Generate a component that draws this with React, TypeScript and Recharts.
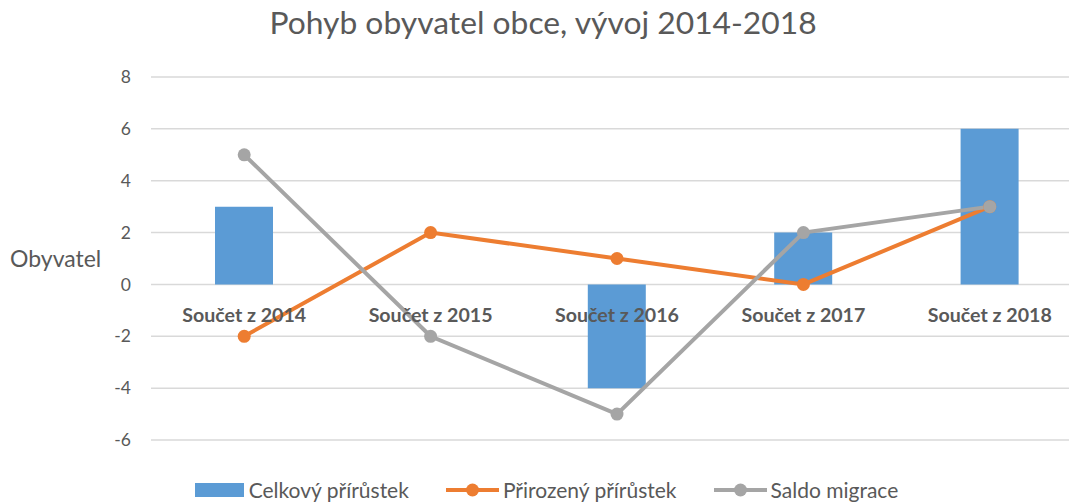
import React from 'react';
import { ComposedChart, Bar, Line, XAxis, YAxis, CartesianGrid, Legend } from 'recharts';

const categories = ['Součet z 2014', 'Součet z 2015', 'Součet z 2016', 'Součet z 2017', 'Součet z 2018'];
const celkovyPrirustek = [3, 0, -4, 2, 6];
const prirozenyPrirustek = [-2, 2, 1, 0, 3];
const saldoMigrace = [5, -2, -5, 2, 3];
const yTicks = [-6, -4, -2, 0, 2, 4, 6, 8];

const data = categories.map((name, i) => ({
  name,
  celkovy: celkovyPrirustek[i],
  prirozeny: prirozenyPrirustek[i],
  saldo: saldoMigrace[i],
}));

const FONT = 'Lato, "Open Sans", sans-serif';
const TEXT = '#595959';
const BLUE = '#5B9BD5';
const ORANGE = '#ED7D31';
const GRAY = '#A5A5A5';

const CategoryTick = (props: any) => {
  const { x, y, payload } = props;
  return (
    <text x={x} y={y - 134} textAnchor="middle" dominantBaseline="central" fill={TEXT}
      style={{ fontFamily: FONT, fontSize: 19.6, fontWeight: 700 }}>
      {payload.value}
    </text>
  );
};

const LegendContent = () => {
  const items = [
    { label: 'Celkový přírůstek', type: 'rect', color: BLUE },
    { label: 'Přirozený přírůstek', type: 'line', color: ORANGE },
    { label: 'Saldo migrace', type: 'line', color: GRAY },
  ];
  return (
    <div style={{ display: 'flex', justifyContent: 'center', alignItems: 'center', gap: 37, fontFamily: FONT, fontSize: 21, color: TEXT }}>
      {items.map((it) => (
        <div key={it.label} style={{ display: 'flex', alignItems: 'center' }}>
          <svg width={53} height={16} style={{ marginRight: 4 }}>
            {it.type === 'rect' ? (
              <rect x={3} y={1} width={49} height={14} fill={it.color} />
            ) : (
              <g>
                <line x1={0} y1={8} x2={53} y2={8} stroke={it.color} strokeWidth={4} />
                <circle cx={26.5} cy={8} r={6.5} fill={it.color} />
              </g>
            )}
          </svg>
          <span>{it.label}</span>
        </div>
      ))}
    </div>
  );
};

export default function App() {
  return (
    <div style={{ position: 'absolute', left: 0, top: 0, width: 1069, height: 502, overflow: 'hidden', background: '#fff' }}>
      <div style={{ position: 'absolute', left: 0, top: 3, width: 1086, textAlign: 'center', fontFamily: FONT, fontSize: 31.8, color: TEXT }}>
        Pohyb obyvatel obce, vývoj 2014-2018
      </div>
      <ComposedChart width={1090} height={502} data={data}
        margin={{ top: 77, right: 7, left: 0, bottom: 0 }}>
        <CartesianGrid vertical={false} stroke="#D9D9D9" strokeWidth={1.5} />
        <XAxis dataKey="name" axisLine={false} tickLine={false} height={37} tick={<CategoryTick />} interval={0} />
        <YAxis domain={[-6, 8]} ticks={yTicks} width={151} axisLine={false} tickLine={false} tickSize={0} tickMargin={20}
          tick={{ fill: TEXT, fontSize: 17.5, fontFamily: FONT }}
          label={{ value: 'Obyvatel', position: 'insideLeft', offset: 10, fill: TEXT, fontSize: 23, fontFamily: FONT }} />
        <Legend verticalAlign="bottom" content={<LegendContent />}
          wrapperStyle={{ position: 'absolute', top: 477, left: 0, width: 1090, bottom: 'auto' }} />
        <Bar dataKey="celkovy" fill={BLUE} barSize={58} isAnimationActive={false} />
        <Line dataKey="prirozeny" stroke={ORANGE} strokeWidth={4} dot={{ r: 6.5, fill: ORANGE, stroke: ORANGE, strokeWidth: 0 }} activeDot={false} isAnimationActive={false} />
        <Line dataKey="saldo" stroke={GRAY} strokeWidth={4} dot={{ r: 6.5, fill: GRAY, stroke: GRAY, strokeWidth: 0 }} activeDot={false} isAnimationActive={false} />
      </ComposedChart>
    </div>
  );
}
